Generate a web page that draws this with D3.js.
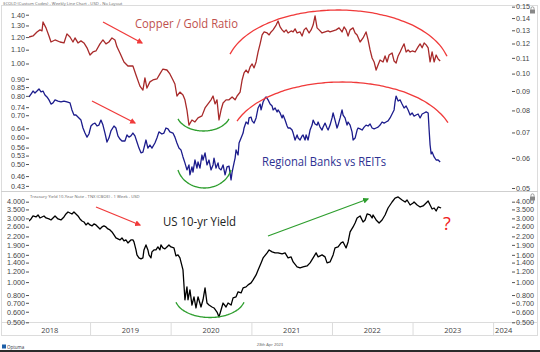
<!DOCTYPE html>
<html>
<head>
<meta charset="utf-8">
<script src="https://cdn.jsdelivr.net/npm/d3@7"></script>
<style>
  body { margin: 0; background: #fff; }
  svg { display: block; font-family: "Open Sans", "Noto Sans", sans-serif; }
</style>
</head>
<body>
<svg id="chart" width="540" height="352"></svg>
<script>
'use strict';

// dates are decimal years
const copperGold = [
  [2018.242,0.1248],[2018.292,0.1256],[2018.341,0.1287],[2018.378,0.1303],[2018.403,0.1295],[2018.416,0.1367],
  [2018.453,0.1319],[2018.490,0.1256],[2018.515,0.1211],[2018.565,0.1226],[2018.627,0.1211],[2018.676,0.1204],
  [2018.713,0.1272],[2018.751,0.1248],[2018.788,0.1211],[2018.813,0.1241],[2018.850,0.1204],[2018.887,0.1219],
  [2018.924,0.1204],[2018.962,0.1169],[2018.999,0.1119],[2019.036,0.1140],[2019.073,0.1147],[2019.123,0.1197],
  [2019.160,0.1226],[2019.197,0.1197],[2019.234,0.1211],[2019.272,0.1241],[2019.309,0.1226],[2019.334,0.1176],
  [2019.371,0.1133],[2019.421,0.1073],[2019.470,0.1047],[2019.532,0.1047],[2019.570,0.0992],[2019.619,0.0927],
  [2019.656,0.0905],[2019.681,0.0974],[2019.706,0.0916],[2019.743,0.0951],[2019.780,0.0962],[2019.830,0.0968],
  [2019.867,0.0998],[2019.904,0.1028],[2019.954,0.1022],[2019.991,0.0998],[2020.029,0.0962],[2020.053,0.0939],
  [2020.078,0.0873],[2020.115,0.0894],[2020.153,0.0878],[2020.177,0.0853],[2020.202,0.0802],[2020.227,0.0732],
  [2020.264,0.0755],[2020.301,0.0746],[2020.339,0.0765],[2020.388,0.0774],[2020.426,0.0812],[2020.463,0.0832],
  [2020.500,0.0853],[2020.525,0.0873],[2020.550,0.0832],[2020.574,0.0853],[2020.599,0.0755],[2020.624,0.0802],
  [2020.649,0.0837],[2020.686,0.0853],[2020.723,0.0853],[2020.761,0.0868],[2020.798,0.0853],[2020.823,0.0873],
  [2020.860,0.0894],[2020.885,0.0962],[2020.909,0.1004],[2020.934,0.1022],[2020.959,0.1004],[2020.984,0.1041],
  [2021.009,0.1060],[2021.033,0.1035],[2021.058,0.1073],[2021.083,0.1140],[2021.108,0.1197],[2021.133,0.1264],
  [2021.158,0.1287],[2021.195,0.1279],[2021.220,0.1264],[2021.244,0.1287],[2021.269,0.1303],[2021.307,0.1342],
  [2021.331,0.1375],[2021.356,0.1327],[2021.381,0.1303],[2021.406,0.1287],[2021.431,0.1303],[2021.455,0.1279],
  [2021.493,0.1295],[2021.518,0.1287],[2021.542,0.1311],[2021.567,0.1279],[2021.604,0.1287],[2021.629,0.1256],
  [2021.654,0.1303],[2021.679,0.1319],[2021.716,0.1279],[2021.741,0.1303],[2021.766,0.1342],[2021.790,0.1419],
  [2021.815,0.1319],[2021.840,0.1303],[2021.877,0.1279],[2021.914,0.1287],[2021.952,0.1295],[2021.976,0.1287],
  [2022.014,0.1295],[2022.051,0.1303],[2022.088,0.1319],[2022.125,0.1287],[2022.150,0.1327],[2022.175,0.1303],
  [2022.200,0.1256],[2022.225,0.1303],[2022.262,0.1319],[2022.287,0.1279],[2022.312,0.1264],[2022.349,0.1211],
  [2022.386,0.1241],[2022.423,0.1287],[2022.448,0.1226],[2022.473,0.1154],[2022.498,0.1099],[2022.523,0.1073],
  [2022.548,0.1022],[2022.572,0.1054],[2022.597,0.1086],[2022.634,0.1073],[2022.659,0.1113],[2022.684,0.1073],
  [2022.709,0.1119],[2022.746,0.1133],[2022.771,0.1079],[2022.796,0.1066],[2022.821,0.1113],[2022.846,0.1140],
  [2022.870,0.1169],[2022.895,0.1197],[2022.920,0.1140],[2022.945,0.1154],[2022.970,0.1140],[2022.995,0.1147],
  [2023.032,0.1140],[2023.069,0.1176],[2023.094,0.1197],[2023.119,0.1169],[2023.144,0.1204],[2023.169,0.1190],
  [2023.194,0.1169],[2023.218,0.1073],[2023.243,0.1140],[2023.268,0.1073],[2023.293,0.1119],[2023.318,0.1092],
  [2023.343,0.1079]
];

const banksReits = [
  [2018.242,0.794],[2018.267,0.810],[2018.292,0.827],[2018.316,0.816],[2018.341,0.827],[2018.366,0.839],
  [2018.391,0.822],[2018.416,0.827],[2018.440,0.805],[2018.465,0.794],[2018.490,0.778],[2018.515,0.756],
  [2018.540,0.762],[2018.565,0.778],[2018.602,0.772],[2018.639,0.767],[2018.676,0.772],[2018.713,0.767],
  [2018.751,0.762],[2018.775,0.726],[2018.800,0.701],[2018.825,0.701],[2018.862,0.687],[2018.887,0.677],
  [2018.912,0.641],[2018.937,0.619],[2018.962,0.602],[2018.986,0.615],[2019.011,0.650],[2019.036,0.659],
  [2019.061,0.663],[2019.086,0.650],[2019.110,0.654],[2019.135,0.677],[2019.160,0.654],[2019.185,0.619],
  [2019.210,0.582],[2019.234,0.598],[2019.259,0.628],[2019.297,0.650],[2019.321,0.641],[2019.346,0.607],
  [2019.371,0.594],[2019.396,0.586],[2019.433,0.586],[2019.458,0.611],[2019.483,0.602],[2019.507,0.607],
  [2019.532,0.619],[2019.557,0.607],[2019.582,0.582],[2019.607,0.558],[2019.632,0.540],[2019.656,0.543],
  [2019.694,0.590],[2019.718,0.558],[2019.743,0.570],[2019.768,0.558],[2019.805,0.578],[2019.830,0.598],
  [2019.855,0.624],[2019.892,0.615],[2019.917,0.619],[2019.942,0.641],[2019.967,0.637],[2019.991,0.624],
  [2020.029,0.619],[2020.053,0.602],[2020.078,0.578],[2020.103,0.558],[2020.128,0.551],[2020.153,0.525],
  [2020.177,0.504],[2020.202,0.480],[2020.227,0.497],[2020.239,0.464],[2020.264,0.490],[2020.277,0.473],
  [2020.301,0.514],[2020.326,0.486],[2020.339,0.507],[2020.363,0.486],[2020.388,0.532],[2020.401,0.514],
  [2020.426,0.540],[2020.450,0.497],[2020.475,0.514],[2020.500,0.480],[2020.525,0.497],[2020.537,0.521],
  [2020.562,0.486],[2020.587,0.504],[2020.599,0.486],[2020.624,0.480],[2020.649,0.497],[2020.674,0.464],
  [2020.698,0.490],[2020.723,0.493],[2020.748,0.448],[2020.761,0.473],[2020.785,0.504],[2020.798,0.521],
  [2020.810,0.551],[2020.835,0.532],[2020.847,0.578],[2020.872,0.598],[2020.897,0.619],[2020.909,0.641],
  [2020.934,0.668],[2020.959,0.659],[2020.971,0.687],[2020.996,0.691],[2021.009,0.673],[2021.033,0.663],
  [2021.058,0.687],[2021.083,0.736],[2021.108,0.756],[2021.120,0.726],[2021.145,0.767],[2021.170,0.788],
  [2021.182,0.794],[2021.207,0.778],[2021.232,0.756],[2021.257,0.746],[2021.269,0.726],[2021.294,0.736],
  [2021.319,0.716],[2021.331,0.726],[2021.356,0.711],[2021.381,0.687],[2021.393,0.701],[2021.418,0.677],
  [2021.443,0.650],[2021.455,0.641],[2021.480,0.641],[2021.505,0.632],[2021.518,0.619],[2021.542,0.590],
  [2021.567,0.611],[2021.580,0.598],[2021.604,0.590],[2021.629,0.607],[2021.641,0.611],[2021.666,0.590],
  [2021.679,0.611],[2021.703,0.590],[2021.728,0.632],[2021.753,0.654],[2021.766,0.677],[2021.790,0.659],
  [2021.815,0.654],[2021.828,0.668],[2021.852,0.645],[2021.877,0.632],[2021.890,0.645],[2021.914,0.663],
  [2021.939,0.641],[2021.952,0.632],[2021.976,0.654],[2022.001,0.687],[2022.014,0.711],[2022.038,0.677],
  [2022.063,0.641],[2022.076,0.654],[2022.101,0.687],[2022.125,0.726],[2022.138,0.701],[2022.162,0.687],
  [2022.187,0.654],[2022.200,0.668],[2022.225,0.654],[2022.249,0.624],[2022.262,0.590],[2022.287,0.598],
  [2022.312,0.632],[2022.324,0.641],[2022.349,0.637],[2022.374,0.632],[2022.399,0.645],[2022.423,0.654],
  [2022.448,0.650],[2022.473,0.659],[2022.498,0.641],[2022.523,0.637],[2022.548,0.641],[2022.572,0.645],
  [2022.597,0.654],[2022.622,0.668],[2022.647,0.663],[2022.671,0.668],[2022.696,0.673],[2022.721,0.687],
  [2022.746,0.706],[2022.771,0.726],[2022.783,0.767],[2022.796,0.799],[2022.821,0.772],[2022.846,0.778],
  [2022.870,0.756],[2022.895,0.736],[2022.920,0.746],[2022.945,0.726],[2022.970,0.701],[2022.995,0.711],
  [2023.019,0.696],[2023.044,0.701],[2023.069,0.706],[2023.094,0.687],[2023.119,0.706],[2023.144,0.711],
  [2023.169,0.716],[2023.194,0.711],[2023.206,0.632],[2023.218,0.570],[2023.231,0.536],[2023.243,0.543],
  [2023.268,0.525],[2023.293,0.514],[2023.318,0.514],[2023.343,0.507]
];

const tenYear = [
  [2018.242,2.869],[2018.267,2.970],[2018.292,3.127],[2018.329,3.074],[2018.354,3.181],[2018.378,3.021],
  [2018.403,3.074],[2018.428,3.127],[2018.453,3.021],[2018.490,2.970],[2018.515,2.919],[2018.540,3.021],
  [2018.565,3.127],[2018.602,2.970],[2018.639,2.919],[2018.676,3.074],[2018.701,3.236],[2018.726,3.350],
  [2018.751,3.292],[2018.775,3.236],[2018.800,3.350],[2018.825,3.236],[2018.850,3.127],[2018.875,2.970],
  [2018.900,2.869],[2018.924,2.820],[2018.949,2.679],[2018.974,2.772],[2018.999,2.679],[2019.024,2.633],
  [2019.048,2.725],[2019.073,2.679],[2019.098,2.588],[2019.123,2.500],[2019.148,2.588],[2019.172,2.633],
  [2019.197,2.588],[2019.222,2.500],[2019.247,2.458],[2019.272,2.375],[2019.297,2.255],[2019.321,2.141],
  [2019.346,2.104],[2019.371,2.069],[2019.396,2.141],[2019.421,2.033],[2019.445,2.069],[2019.470,1.964],
  [2019.507,2.069],[2019.532,2.069],[2019.545,1.999],[2019.570,1.741],[2019.582,1.598],[2019.607,1.518],
  [2019.632,1.492],[2019.656,1.518],[2019.669,1.741],[2019.694,1.898],[2019.718,1.741],[2019.731,1.598],
  [2019.756,1.518],[2019.768,1.683],[2019.793,1.741],[2019.818,1.741],[2019.842,1.834],[2019.867,1.741],
  [2019.880,1.898],[2019.904,1.802],[2019.929,1.772],[2019.954,1.834],[2019.979,1.898],[2020.004,1.834],
  [2020.041,1.802],[2020.066,1.571],[2020.091,1.598],[2020.115,1.518],[2020.153,1.233],[2020.177,0.737],
  [2020.202,0.921],[2020.215,0.737],[2020.239,0.874],[2020.264,0.673],[2020.289,0.776],[2020.314,0.640],
  [2020.339,0.776],[2020.376,0.651],[2020.401,0.737],[2020.426,0.905],[2020.450,0.697],[2020.475,0.673],
  [2020.512,0.651],[2020.537,0.640],[2020.574,0.597],[2020.599,0.549],[2020.624,0.618],[2020.649,0.697],
  [2020.686,0.651],[2020.711,0.697],[2020.748,0.673],[2020.773,0.762],[2020.810,0.776],[2020.835,0.845],
  [2020.872,0.830],[2020.897,0.905],[2020.934,0.921],[2020.959,0.953],[2020.996,0.986],[2021.021,1.039],
  [2021.058,1.131],[2021.083,1.233],[2021.120,1.392],[2021.145,1.518],[2021.195,1.654],[2021.220,1.741],
  [2021.257,1.683],[2021.294,1.654],[2021.331,1.654],[2021.381,1.626],[2021.418,1.654],[2021.455,1.518],
  [2021.493,1.544],[2021.518,1.416],[2021.567,1.298],[2021.604,1.276],[2021.641,1.298],[2021.691,1.321],
  [2021.728,1.392],[2021.766,1.518],[2021.803,1.654],[2021.828,1.544],[2021.877,1.598],[2021.914,1.544],
  [2021.939,1.392],[2021.976,1.416],[2022.014,1.598],[2022.038,1.802],[2022.076,1.834],[2022.113,1.964],
  [2022.138,1.999],[2022.175,1.802],[2022.200,1.999],[2022.225,2.375],[2022.262,2.588],[2022.287,2.772],
  [2022.312,3.021],[2022.349,3.130],[2022.386,2.820],[2022.411,2.919],[2022.436,3.236],[2022.473,3.181],
  [2022.498,3.021],[2022.510,3.181],[2022.548,2.919],[2022.585,2.772],[2022.622,2.919],[2022.659,3.181],
  [2022.696,3.588],[2022.746,3.979],[2022.783,4.260],[2022.821,4.338],[2022.870,4.118],[2022.908,3.979],
  [2022.932,4.118],[2022.970,3.779],[2023.007,3.911],[2023.019,3.979],[2023.057,3.779],[2023.094,3.651],
  [2023.131,3.714],[2023.169,3.911],[2023.194,4.048],[2023.218,3.779],[2023.243,3.527],[2023.268,3.588],
  [2023.293,3.408],[2023.318,3.651],[2023.355,3.588]
];

const banksTicks = [1.40, 1.30, 1.20, 1.10, 1.00, 0.90, 0.85, 0.80, 0.74, 0.70, 0.64, 0.60, 0.56, 0.53, 0.50, 0.46, 0.43];
const copperTicks = [0.15, 0.14, 0.13, 0.12, 0.11, 0.10, 0.09, 0.08, 0.07, 0.06, 0.05];
const yieldTicks = [4.0, 3.5, 3.0, 2.6, 2.2, 1.9, 1.6, 1.4, 1.2, 1.0, 0.8, 0.7, 0.6, 0.5];
const years = [2018, 2019, 2020, 2021, 2022, 2023, 2024];

const redLine = '#a82a2a';
const blueLine = '#1c1c8c';
const annoRed = '#f03a3a';
const annoGreen = '#2e9e2e';
const tickFont = '"Liberation Sans", Arial, sans-serif';

const svg = d3.select('#chart');

function yearToDate(t) {
  const y = Math.floor(t);
  const s = Date.UTC(y, 0, 1), e = Date.UTC(y + 1, 0, 1);
  return new Date(s + (t - y) * (e - s));
}

const left = 29, right = 512;
const x = d3.scaleUtc().domain([yearToDate(2018.242), yearToDate(2024.234)]).range([left, right]);
const yBanks = d3.scaleLog().domain([0.4151, 1.4765]).range([191, 7]);
const yCopper = d3.scaleLog().domain([0.0491, 0.1497]).range([191, 7]);
const yYield = d3.scaleLog().domain([0.494, 4.727]).range([323, 192]);

// frame
svg.append('rect').attr('x', 1.5).attr('y', 5.5).attr('width', 536).attr('height', 330)
  .attr('fill', 'none').attr('stroke', '#dcdcdc');
svg.append('line').attr('x1', 1).attr('x2', 538).attr('y1', 191.5).attr('y2', 191.5).attr('stroke', '#cfcfcf');
svg.append('line').attr('x1', 1).attr('x2', 538).attr('y1', 322.5).attr('y2', 322.5).attr('stroke', '#dcdcdc');

// tiny titles
svg.append('text').attr('x', 3).attr('y', 4.5).attr('font-size', 4.2).attr('fill', '#666')
  .text('$COLD (Custom Codes) - Weekly Line Chart - USD - No Layout');
svg.append('text').attr('x', 30).attr('y', 198).attr('font-size', 4.2).attr('fill', '#666')
  .text('Treasury Yield 10-Year Note - TNX (CBOE) - 1 Week - USD');

function drawAxis(axis, tx) {
  const g = svg.append('g').attr('transform', `translate(${tx},0)`).call(axis);
  g.select('.domain').remove();
  g.selectAll('.tick line').attr('stroke', '#555');
  g.selectAll('.tick text').attr('fill', '#444').style('font-size', '7.2px')
    .style('font-family', tickFont);
  return g;
}

drawAxis(d3.axisLeft(yBanks).tickValues(banksTicks).tickFormat(d3.format('.2f')).tickSize(3).tickPadding(1), left);
drawAxis(d3.axisRight(yCopper).tickValues(copperTicks).tickFormat(d3.format('.2f')).tickSize(3).tickPadding(1), right);
drawAxis(d3.axisLeft(yYield).tickValues(yieldTicks).tickFormat(d3.format('.3f')).tickSize(3).tickPadding(1), left);
drawAxis(d3.axisRight(yYield).tickValues(yieldTicks).tickFormat(d3.format('.3f')).tickSize(3).tickPadding(1), right);

// year band
const band = svg.append('g');
band.selectAll('line').data(years.slice(1)).enter().append('line')
  .attr('x1', d => x(yearToDate(d)) + 0.5).attr('x2', d => x(yearToDate(d)) + 0.5)
  .attr('y1', 323).attr('y2', 335).attr('stroke', '#dcdcdc');
band.selectAll('text').data(years).enter().append('text')
  .attr('x', d => {
    const mid = (x(yearToDate(d)) + x(yearToDate(d + 1))) / 2;
    return mid > right - 10 ? x(yearToDate(d)) + 2 : mid;
  })
  .attr('text-anchor', d => ((x(yearToDate(d)) + x(yearToDate(d + 1))) / 2 > right - 10 ? 'start' : 'middle'))
  .attr('y', 332.5).attr('font-size', 7.5).attr('fill', '#444').text(d => d);

// series
svg.append('clipPath').attr('id', 'clipTop').append('rect')
  .attr('x', left).attr('y', 6).attr('width', right - left).attr('height', 185);
svg.append('clipPath').attr('id', 'clipBot').append('rect')
  .attr('x', left).attr('y', 192).attr('width', right - left).attr('height', 131);

function drawSeries(data, yScale, colour, clip) {
  const line = d3.line().x(d => x(yearToDate(d[0]))).y(d => yScale(d[1]));
  svg.append('path').datum(data).attr('d', line).attr('fill', 'none')
    .attr('stroke', colour).attr('stroke-width', 1.3).attr('stroke-linejoin', 'round')
    .attr('clip-path', `url(#${clip})`);
}
drawSeries(copperGold, yCopper, redLine, 'clipTop');
drawSeries(banksReits, yBanks, blueLine, 'clipTop');
drawSeries(tenYear, yYield, '#000', 'clipBot');

// annotations (hand-drawn on the original)
const defs = svg.append('defs');
function marker(id, colour) {
  defs.append('marker').attr('id', id).attr('viewBox', '0 0 10 10').attr('refX', 8).attr('refY', 5)
    .attr('markerWidth', 6).attr('markerHeight', 6).attr('markerUnits', 'userSpaceOnUse')
    .attr('orient', 'auto').append('path').attr('d', 'M0,0L10,5L0,10z').attr('fill', colour);
}
marker('headRed', annoRed);
marker('headGreen', annoGreen);

function arrow(x1, y1, x2, y2, colour, head) {
  svg.append('line').attr('x1', x1).attr('y1', y1).attr('x2', x2).attr('y2', y2)
    .attr('stroke', colour).attr('stroke-width', 1.3).attr('marker-end', `url(#${head})`);
}
arrow(103, 22, 142, 43, annoRed, 'headRed');
arrow(92, 101, 135, 123, annoRed, 'headRed');
arrow(96, 207, 140, 225, annoRed, 'headRed');
arrow(268, 236, 368, 199, annoGreen, 'headGreen');

function ellipseArc(cx, cy, rx, ry, dx0, dx1, upper, colour) {
  const pts = d3.range(0, 61).map(i => {
    const dx = dx0 + (dx1 - dx0) * i / 60;
    const k = Math.sqrt(Math.max(0, 1 - (dx / rx) * (dx / rx)));
    return [cx + dx, upper ? cy - ry * k : cy + ry * k];
  });
  svg.append('path').attr('d', d3.line().curve(d3.curveBasis)(pts)).attr('fill', 'none')
    .attr('stroke', colour).attr('stroke-width', 1.3);
}
ellipseArc(338, 70, 112, 60, -108, 109, true, annoRed);
ellipseArc(342, 142, 112, 60, -105, 106, true, annoRed);
ellipseArc(203.5, 113, 27, 18, -25.5, 25.5, false, annoGreen);
ellipseArc(204.5, 163.5, 27.5, 24.5, -26.5, 26.5, false, annoGreen);
ellipseArc(210, 297.5, 35, 20, -34, 34, false, annoGreen);

function label(txt, tx, ty, size, colour, len) {
  const t = svg.append('text').attr('x', tx).attr('y', ty).attr('font-size', size).attr('fill', colour).text(txt);
  if (len) t.attr('textLength', len).attr('lengthAdjust', 'spacingAndGlyphs');
}
label('Copper / Gold Ratio', 135, 28, 12, '#c0504d', 103);
label('Regional Banks vs REITs', 262, 165.5, 12, '#2e3192', 124);
label('US 10-yr Yield', 163, 225.5, 12, '#222', 73);
label('?', 443, 230, 18, '#f02020');

// lock icons
function lock(lx, ly) {
  const g = svg.append('g').attr('transform', `translate(${lx},${ly})`);
  g.append('path').attr('d', 'M1,3V1.8A1.5,1.5 0 0 1 4,1.8V3').attr('fill', 'none').attr('stroke', '#888').attr('stroke-width', 0.8);
  g.append('rect').attr('x', 0).attr('y', 3).attr('width', 5).attr('height', 4).attr('fill', '#888');
}
lock(530, 6.5);
lock(530, 193.5);

// footer
svg.append('rect').attr('x', 2).attr('y', 344.5).attr('width', 4).attr('height', 4).attr('fill', '#1d5fa8');
svg.append('text').attr('x', 7).attr('y', 348.5).attr('font-size', 4.5).attr('fill', '#334').text('Optuma');
svg.append('text').attr('x', 270).attr('y', 346).attr('text-anchor', 'middle').attr('font-size', 4)
  .attr('fill', '#555').text('28th Apr 2023');
svg.append('rect').attr('x', 0).attr('y', 350).attr('width', 540).attr('height', 2).attr('fill', '#2b2b2b');
</script>
</body>
</html>
